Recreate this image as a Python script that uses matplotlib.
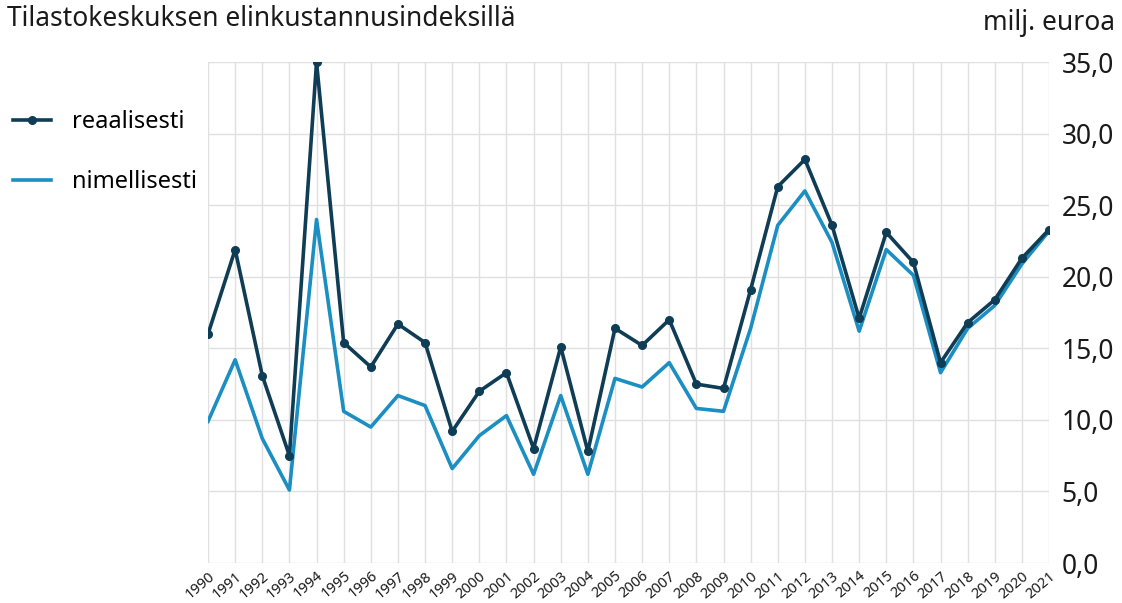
import matplotlib.pyplot as plt

years = list(range(1990, 2022))
reaalisesti = [16.0, 21.9, 13.1, 7.5, 35.0, 15.4, 13.7, 16.7, 15.4, 9.2,
               12.0, 13.3, 8.0, 15.1, 7.8, 16.4, 15.2, 17.0, 12.5, 12.2,
               19.1, 26.3, 28.2, 23.6, 17.1, 23.1, 21.0, 14.0, 16.8, 18.4,
               21.3, 23.3]
nimellisesti = [9.9, 14.2, 8.7, 5.1, 24.0, 10.6, 9.5, 11.7, 11.0, 6.6,
                8.9, 10.3, 6.2, 11.7, 6.2, 12.9, 12.3, 14.0, 10.8, 10.6,
                16.4, 23.6, 26.0, 22.4, 16.2, 21.9, 20.1, 13.3, 16.4, 18.0,
                20.9, 23.2]
y_ticks = [0, 5, 10, 15, 20, 25, 30, 35]

plt.rcParams['font.family'] = ['Noto Sans', 'DejaVu Sans']

dark = '#0f3d55'
light = '#1b8ec2'
grid = '#e0e0e0'

fig = plt.figure(figsize=(11.22, 6.03), dpi=100)
ax = fig.add_axes([0.1854, 0.0663, 0.7496, 0.8307])

ax.plot(years, nimellisesti, color=light, lw=2.6, zorder=3, label='nimellisesti')
ax.plot(years, reaalisesti, color=dark, lw=2.6, marker='o', ms=5.5, zorder=4,
        label='reaalisesti')

ax.set_xlim(1990, 2021)
ax.set_ylim(0, 35)
ax.set_xticks(years)
ax.set_xticklabels([str(y) for y in years], rotation=40, ha='right',
                   rotation_mode='anchor', fontsize=10.5, color='#1a1a1a')
ax.set_yticks(y_ticks)
ax.set_yticklabels([f'{v:.1f}'.replace('.', ',') for v in y_ticks],
                   fontsize=19, color='#1a1a1a')
ax.yaxis.tick_right()
ax.tick_params(axis='both', length=0)
ax.tick_params(axis='y', pad=9)
ax.tick_params(axis='x', pad=4)
ax.grid(True, color=grid, lw=1.0)
ax.set_axisbelow(True)
for s in ax.spines.values():
    s.set_visible(False)

fig.text(0.006, 0.968, 'Tilastokeskuksen elinkustannusindeksillä',
         fontsize=19, color='#1a1a1a', va='center', ha='left')
fig.text(0.994, 0.962, 'milj. euroa', fontsize=19, color='#1a1a1a',
         va='center', ha='right')

handles, labels = ax.get_legend_handles_labels()
fig.legend(handles[::-1], labels[::-1], loc='upper left',
           bbox_to_anchor=(-0.007, 0.852), frameon=False, fontsize=17,
           handlelength=1.6, labelspacing=1.5, handletextpad=0.9)

fig.savefig('out.png', dpi=100, facecolor='white')
